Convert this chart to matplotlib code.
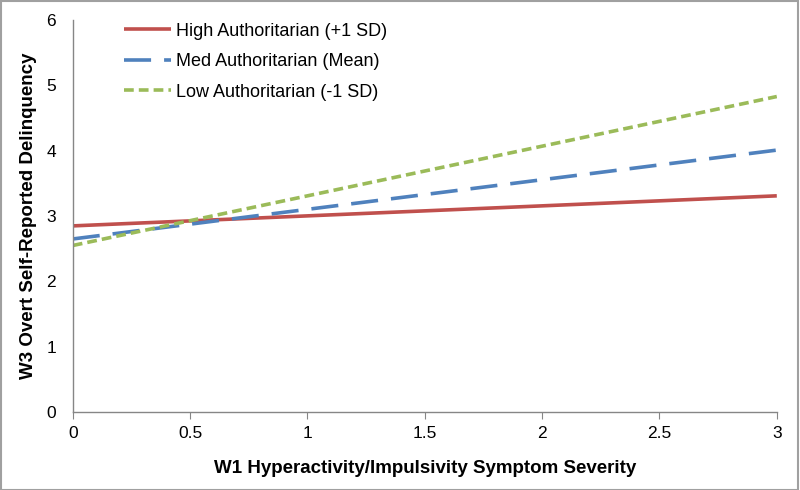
import matplotlib
matplotlib.use("Agg")
import matplotlib.pyplot as plt
from matplotlib.patches import Rectangle

plt.rcParams['font.family'] = ['Liberation Sans', 'DejaVu Sans']

# Simple slopes: predicted values at x = 0 and x = 3
x_vals = [0, 3]
high_auth = [2.85, 3.31]
med_auth = [2.65, 4.01]
low_auth = [2.55, 4.83]

labels = ["High Authoritarian (+1 SD)", "Med Authoritarian (Mean)", "Low Authoritarian (-1 SD)"]
x_ticks = [0, 0.5, 1, 1.5, 2, 2.5, 3]
x_tick_labels = ["0", "0.5", "1", "1.5", "2", "2.5", "3"]
y_ticks = [0, 1, 2, 3, 4, 5, 6]

fig = plt.figure(figsize=(8, 4.9), dpi=100)
ax = fig.add_axes([0.091, 0.159, 0.880, 0.800])

lw = 2.6
ax.plot(x_vals, high_auth, color='#C0504D', linewidth=lw, label=labels[0],
        solid_capstyle='butt')
ax.plot(x_vals, med_auth, color='#4F81BD', linewidth=lw, label=labels[1],
        dashes=(7.5, 3.6), dash_capstyle='butt')
ax.plot(x_vals, low_auth, color='#9BBB59', linewidth=lw, label=labels[2],
        dashes=(2.7, 1.4), dash_capstyle='butt')

ax.set_xlim(0, 3)
ax.set_ylim(0, 6)
ax.set_xticks(x_ticks)
ax.set_xticklabels(x_tick_labels)
ax.set_yticks(y_ticks)

for s in ['top', 'right']:
    ax.spines[s].set_visible(False)
for s in ['left', 'bottom']:
    ax.spines[s].set_color('#868686')
    ax.spines[s].set_linewidth(1.0)

ax.tick_params(axis='x', direction='out', length=5, color='#868686',
               labelsize=12.5, pad=5)
ax.tick_params(axis='y', length=0, labelsize=12.5, pad=12)

ax.set_xlabel("W1 Hyperactivity/Impulsivity Symptom Severity",
              fontsize=13.5, fontweight='bold', labelpad=14)
ax.set_ylabel("W3 Overt Self-Reported Delinquency",
              fontsize=13.5, fontweight='bold', labelpad=7)

ax.legend(loc='upper left', bbox_to_anchor=(0.05, 1.035), frameon=False,
          fontsize=13, handlelength=2.6, handletextpad=0.25, labelspacing=0.75)

# Outer chart border
fig.patches.append(Rectangle((0.001, 0.001), 0.997, 0.997, transform=fig.transFigure,
                             fill=False, edgecolor='#A0A0A0', linewidth=1.5))

fig.savefig("out.png", dpi=100)
